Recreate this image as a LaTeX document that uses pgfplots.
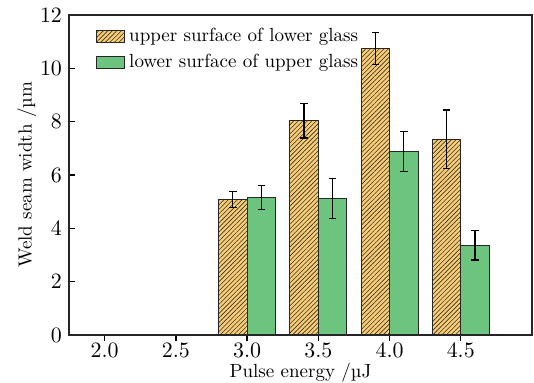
\documentclass[border=0pt]{standalone}
\usepackage{pgfplots}
\pgfplotsset{compat=1.18}
\usetikzlibrary{patterns.meta}
\definecolor{barorange}{HTML}{F8CD78}
\definecolor{bargreen}{HTML}{6CC47E}
\definecolor{hatch}{HTML}{3A3020}
\begin{document}
\begin{tikzpicture}
\useasboundingbox (-34.5pt,-24pt) rectangle (232.5pt,167.5pt);
\begin{axis}[
  width=231.5pt, height=160pt, scale only axis,
  xmin=1.75, xmax=5.0, ymin=0, ymax=12,
  axis lines*=box,
  axis line style={black!85, line width=0.8pt},
  xtick={2,2.5,3,3.5,4,4.5},
  ytick={0,2,4,6,8,10,12},
  xticklabel style={/pgf/number format/fixed, /pgf/number format/fixed zerofill, /pgf/number format/precision=1, yshift=2.5pt},
  tick align=inside, tick pos=left,
  major tick length=3pt,
  tick style={black, line width=0.7pt},
  tick label style={font=\fontsize{10.5}{11}\selectfont},
  label style={font=\fontsize{9.5}{11}\selectfont},
  xlabel={Pulse energy /\textmu J},
  ylabel={Weld seam width /\textmu m},
  xlabel style={at={(axis description cs:0.5,0)}, anchor=base, yshift=-21.5pt},
  ylabel style={yshift=-5pt},
  ybar, bar width=0.2, bar shift=0pt,
  legend style={draw=none, fill=none, at={(0.045,0.985)}, anchor=north west,
    font=\fontsize{9.5}{11}\selectfont, row sep=1pt,
    legend cell align=left},
  legend image code/.code={\draw[#1] (0pt,-3pt) rectangle (14pt,3pt);},
  error bars/y dir=both, error bars/y explicit,
  error bars/error mark options={rotate=90, mark size=1.9pt, black, line width=0.6pt},
  error bars/error bar style={black, line width=0.6pt},
]
\addplot[draw=black!85, line width=0.5pt, fill=barorange,
  postaction={pattern={Lines[angle=45,distance=1.6pt,line width=0.3pt]}, pattern color=hatch}]
  coordinates {
  (2.9,5.09) +- (0,0.3)
  (3.4,8.04) +- (0,0.65)
  (3.9,10.73) +- (0,0.6)
  (4.4,7.34) +- (0,1.1)
};
\addlegendentry{upper surface of lower glass}
\addplot[draw=black!85, line width=0.5pt, fill=bargreen]
  coordinates {
  (3.1,5.16) +- (0,0.45)
  (3.6,5.12) +- (0,0.75)
  (4.1,6.88) +- (0,0.75)
  (4.6,3.36) +- (0,0.55)
};
\addlegendentry{lower surface of upper glass}
\end{axis}
\end{tikzpicture}
\end{document}
